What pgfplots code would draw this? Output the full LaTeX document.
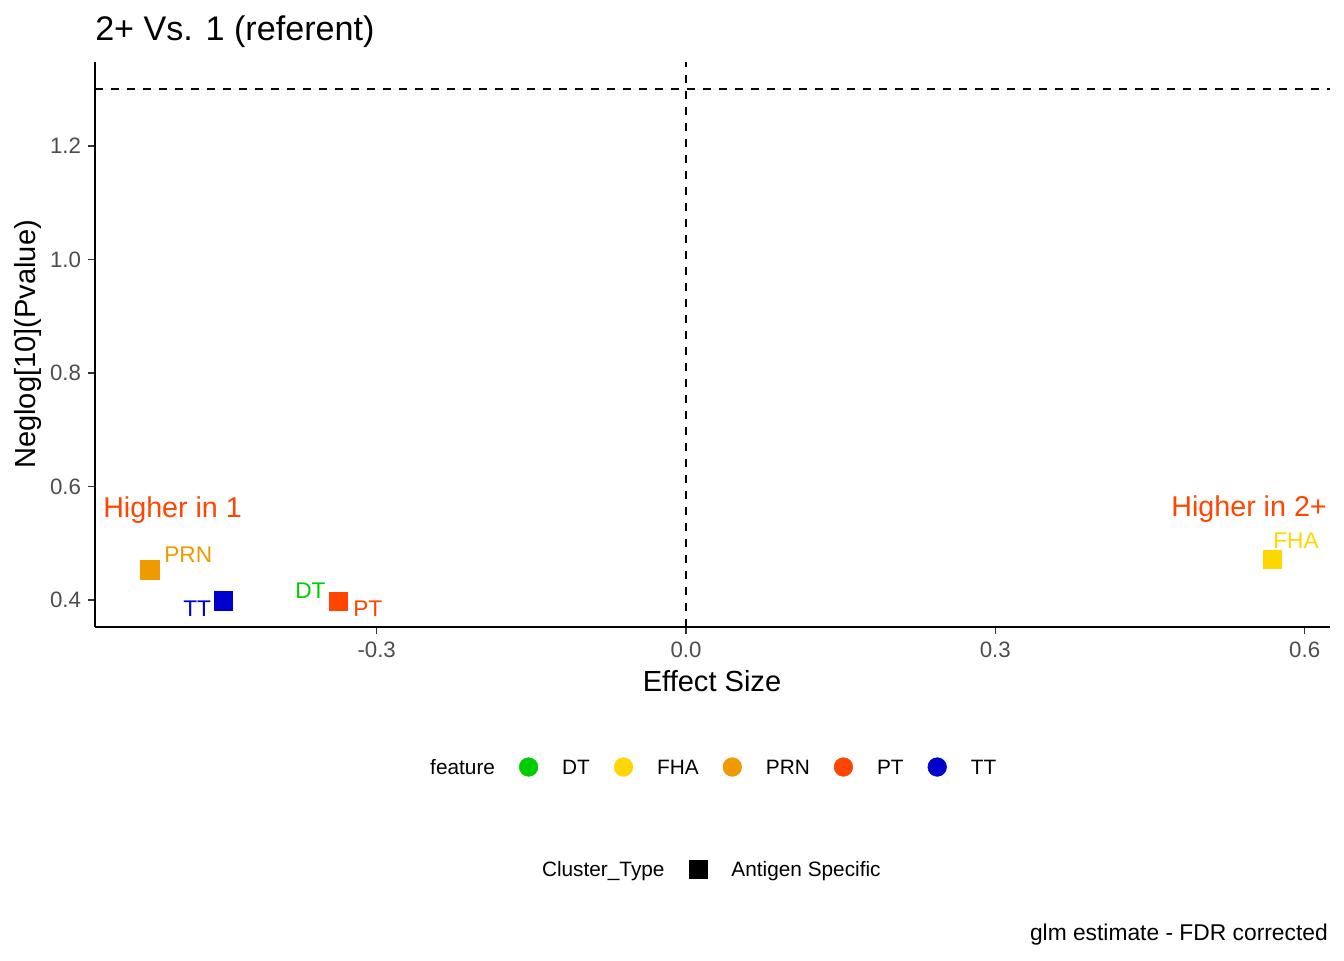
\documentclass[border=0pt]{standalone}
\usepackage{fontspec}
\setmainfont{Liberation Sans}
\usepackage{pgfplots}
\pgfplotsset{compat=1.18}
\definecolor{cDT}{HTML}{00CD00}
\definecolor{cFHA}{HTML}{FFD700}
\definecolor{cPRN}{HTML}{EE9A00}
\definecolor{cPT}{HTML}{FF4500}
\definecolor{cTT}{HTML}{0000CD}
\definecolor{tickgrey}{HTML}{4D4D4D}
\definecolor{tickline}{HTML}{333333}
\newcommand{\fs}[1]{\fontsize{#1}{#1}\selectfont}
\newcommand{\px}[2]{({#1*0.75pt},{(960-#2)*0.75pt})}
\begin{document}
\begin{tikzpicture}
\path[use as bounding box] (0,0) rectangle (1008pt,720pt);
\begin{axis}[
  at={(71.25pt,249.75pt)}, anchor=south west,
  scale only axis, width=926.25pt, height=423.75pt,
  xmin=-0.5732, xmax=0.6246, ymin=0.3524, ymax=1.348,
  axis lines=left, axis line style={-, line width=1.4pt, black},
  xtick={-0.3,0,0.3,0.6}, xticklabels={-0.3,0.0,0.3,0.6},
  ytick={0.4,0.6,0.8,1.0,1.2}, yticklabels={0.4,0.6,0.8,1.0,1.2},
  tick align=outside, major tick length=5pt,
  tick style={line width=1.1pt, color=tickline},
  ticklabel style={font=\fs{16.7}, text=tickgrey},
  xticklabel style={yshift=-3pt},
  yticklabel style={xshift=-2pt},
  clip=false,
  legend style={draw=none, fill=none, inner sep=0pt,
    at={(0.2518,-0.2478)}, anchor=west,
    legend columns=-1, font=\fs{15.6},
    nodes={inner sep=0pt, text depth=0pt},
    /tikz/column sep=18pt},
]
\addplot[forget plot, line width=1.4pt, dash pattern=on 6pt off 6pt] coordinates {(0,0.3524) (0,1.348)};
\addplot[forget plot, line width=1.4pt, dash pattern=on 6pt off 6pt] coordinates {(-0.5732,1.30103) (0.6246,1.30103)};
\addplot[forget plot, only marks, mark=square*, mark size=7pt, color=cDT] coordinates {(-0.3372,0.3980)};
\addplot[forget plot, only marks, mark=square*, mark size=7pt, color=cPRN] coordinates {(-0.5199,0.4529)};
\addplot[forget plot, only marks, mark=square*, mark size=7pt, color=cTT] coordinates {(-0.4488,0.3988)};
\addplot[forget plot, only marks, mark=square*, mark size=7pt, color=cPT] coordinates {(-0.3372,0.3980)};
\addplot[forget plot, only marks, mark=square*, mark size=7pt, color=cFHA] coordinates {(0.5687,0.4717)};
\addlegendimage{empty legend}
\addlegendentry{feature}
\addlegendimage{legend image code/.code={\fill[cDT] (0pt,0pt) circle (7pt);}}
\addlegendentry{DT}
\addlegendimage{legend image code/.code={\fill[cFHA] (0pt,0pt) circle (7pt);}}
\addlegendentry{FHA}
\addlegendimage{legend image code/.code={\fill[cPRN] (0pt,0pt) circle (7pt);}}
\addlegendentry{PRN}
\addlegendimage{legend image code/.code={\fill[cPT] (0pt,0pt) circle (7pt);}}
\addlegendentry{PT}
\addlegendimage{legend image code/.code={\fill[cTT] (0pt,0pt) circle (7pt);}}
\addlegendentry{TT}
\end{axis}
\begin{axis}[
  at={(71.25pt,249.75pt)}, anchor=south west,
  scale only axis, width=926.25pt, height=423.75pt,
  xmin=0, xmax=1, ymin=0, ymax=1, hide axis, clip=false,
  legend style={draw=none, fill=none, inner sep=0pt,
    at={(0.3423,-0.42885)}, anchor=west,
    legend columns=-1, font=\fs{15.6},
    nodes={inner sep=0pt, text depth=0pt},
    /tikz/column sep=18pt},
]
\addlegendimage{empty legend}
\addlegendentry{Cluster\_Type}
\addlegendimage{legend image code/.code={\fill[black] (-6.9pt,-6.9pt) rectangle (6.9pt,6.9pt);}}
\addlegendentry{Antigen Specific}
\end{axis}
% point labels
\node[anchor=base west, inner sep=0pt, font=\fs{17}, text=cPRN] at \px{164}{562.7} {PRN};
\node[anchor=base west, inner sep=0pt, font=\fs{17}, text=cTT] at \px{183}{616.7} {TT};
\node[anchor=base west, inner sep=0pt, font=\fs{17}, text=cDT] at \px{295}{598.3} {DT};
\node[anchor=base west, inner sep=0pt, font=\fs{17}, text=cPT] at \px{353}{616.7} {PT};
\node[anchor=base west, inner sep=0pt, font=\fs{17}, text=cFHA] at \px{1273}{549} {FHA};
\node[anchor=base west, inner sep=0pt, font=\fs{21.5}, text=cPT] at \px{103}{518} {Higher in 1};
\node[anchor=base east, inner sep=0pt, font=\fs{21.5}, text=cPT] at \px{1327}{517} {Higher in 2+};
% titles
\node[anchor=base west, inner sep=0pt, font=\fs{25.6}] at \px{95}{41} {2+ Vs. 1 (referent)};
\node[anchor=base, inner sep=0pt, font=\fs{21.8}] at \px{712}{691.7} {Effect Size};
\node[anchor=base, inner sep=0pt, rotate=90, font=\fs{21.8}] at \px{35}{344.5} {Neglog[10](Pvalue)};
\node[anchor=base east, inner sep=0pt, font=\fs{17.1}] at \px{1328}{940} {glm estimate - FDR corrected};
\end{tikzpicture}
\end{document}
